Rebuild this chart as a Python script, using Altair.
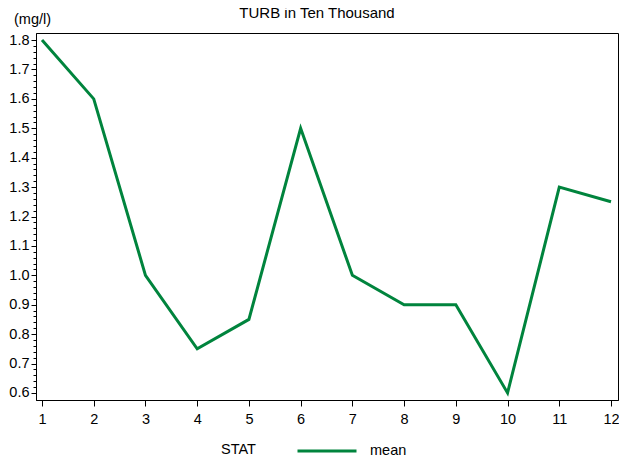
import altair as alt
import pandas as pd

months = [1, 2, 3, 4, 5, 6, 7, 8, 9, 10, 11, 12]
values = [1.8, 1.6, 1.0, 0.75, 0.85, 1.5, 1.0, 0.9, 0.9, 0.6, 1.3, 1.25]
stat = ["mean"] * len(months)
x_ticks = months
y_ticks = [0.6, 0.7, 0.8, 0.9, 1.0, 1.1, 1.2, 1.3, 1.4, 1.5, 1.6, 1.7, 1.8]
y_minor = [round(0.6 + 0.02 * i, 2) for i in range(61)]

df = pd.DataFrame({"month": months, "value": values, "STAT": stat})

FONT = "Liberation Sans"
GREEN = "#00843d"
FS = 14.5

xscale = alt.Scale(domain=[0.884, 12.135], nice=False, zero=False)
yscale = alt.Scale(domain=[0.576, 1.824], nice=False, zero=False)

line = alt.Chart(df).mark_line(strokeWidth=3).encode(
    x=alt.X("month:Q", scale=xscale,
            axis=alt.Axis(values=x_ticks, title=None, format="d", tickSize=6,
                          labelPadding=6, grid=False, domainColor="black",
                          tickColor="black", labelFontSize=FS, labelFont=FONT,
                          labelColor="black")),
    y=alt.Y("value:Q", scale=yscale,
            axis=alt.Axis(values=y_ticks, format=".1f", tickSize=5, labelPadding=2,
                          grid=False, domainColor="black", tickColor="black",
                          labelFontSize=FS, labelFont=FONT, labelColor="black",
                          title="(mg/l)", titleAngle=0, titleX=-4, titleY=-14,
                          titleAlign="center", titleBaseline="middle",
                          titleFontSize=FS, titleFontWeight="normal", titleFont=FONT,
                          titleColor="black")),
    color=alt.Color("STAT:N", scale=alt.Scale(domain=["mean"], range=[GREEN]),
                    legend=alt.Legend(orient="none", legendX=185, legendY=387,
                                      direction="horizontal", titleOrient="left",
                                      titleBaseline="line-top", titleLineHeight=22,
                                      title="STAT", titleFontSize=FS,
                                      titleFontWeight="normal", titleFont=FONT,
                                      titleColor="black", titlePadding=40,
                                      labelFontSize=FS, labelFont=FONT,
                                      labelColor="black", symbolType="stroke",
                                      symbolSize=3481, symbolStrokeWidth=3,
                                      labelOffset=12, padding=0)),
)

minor = alt.Chart(pd.DataFrame({"v": [0.6]})).mark_point(opacity=0).encode(
    y=alt.Y("v:Q", scale=yscale,
            axis=alt.Axis(values=y_minor, labels=False, tickSize=3, grid=False,
                          domain=False, tickColor="black", title=None,
                          orient="left")),
)

chart = alt.layer(line, minor).resolve_axis(y="independent").properties(
    width=582, height=367,
    title=alt.TitleParams("TURB in Ten Thousand", fontSize=15, font=FONT,
                          fontWeight="normal", color="black", offset=-10,
                          anchor="middle", dx=-10),
    padding={"left": 28, "top": 25, "right": 1, "bottom": 58},
    autosize=alt.AutoSizeParams(type="none"),
    background="white",
).configure_view(stroke="black", strokeWidth=1)

chart.save("out.html", embed_options={"renderer": "svg", "actions": False})
